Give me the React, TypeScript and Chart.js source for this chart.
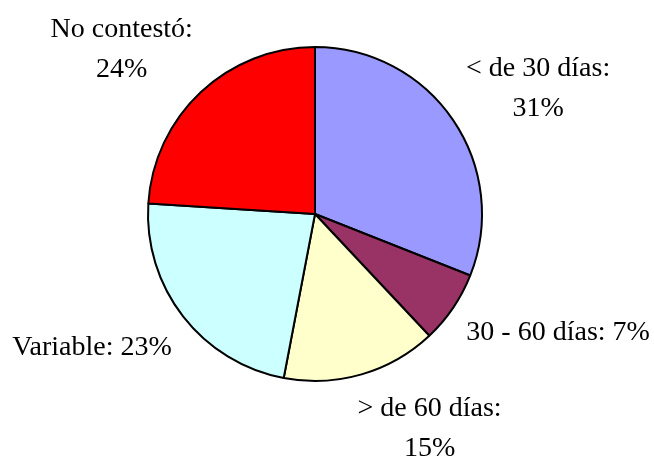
import React, { useEffect, useRef } from "react";
import { Chart, registerables } from "chart.js";

Chart.register(...registerables);

const CATEGORIES = ["< de 30 días", "30 - 60 días", "> de 60 días", "Variable", "No contestó"];
const VALUES = [31, 7, 15, 23, 24];
const COLORS = ["#9999FF", "#993366", "#FFFFCC", "#CCFFFF", "#FF0000"];
const WRAP = [true, false, true, false, true];
// label block centre offsets from the slice's outer mid point (style only)
const LABEL_OFFSETS: [number, number][] = [
  [85, -31],
  [105, 25],
  [68, 54],
  [-91, 31],
  [-79, -43],
];

const labelPlugin = {
  id: "outerLabels",
  afterDatasetsDraw(chart: any) {
    const ctx = chart.ctx;
    const meta = chart.getDatasetMeta(0);
    ctx.save();
    ctx.font = '28px "Liberation Serif"';
    ctx.fillStyle = "#000";
    ctx.textAlign = "center";
    ctx.textBaseline = "middle";
    const lineH = 40;
    meta.data.forEach((arc: any, i: number) => {
      const { x, y, startAngle, endAngle, outerRadius } = arc.getProps(
        ["x", "y", "startAngle", "endAngle", "outerRadius"],
        true
      );
      const mid = (startAngle + endAngle) / 2;
      const ex = x + Math.cos(mid) * outerRadius;
      const ey = y + Math.sin(mid) * outerRadius;
      const cx = ex + LABEL_OFFSETS[i][0];
      const cy = ey + LABEL_OFFSETS[i][1];
      const name = CATEGORIES[i] + ":";
      const pct = VALUES[i] + "%";
      const lines = WRAP[i] ? [name, pct] : [name + " " + pct];
      const startY = cy - ((lines.length - 1) * lineH) / 2;
      lines.forEach((t, k) => ctx.fillText(t, cx, startY + k * lineH));
    });
    ctx.restore();
  },
};

export default function App() {
  const ref = useRef<HTMLCanvasElement | null>(null);
  useEffect(() => {
    if (!ref.current) return;
    const chart = new Chart(ref.current, {
      type: "pie",
      data: {
        labels: CATEGORIES,
        datasets: [
          {
            data: VALUES,
            backgroundColor: COLORS,
            borderColor: "#000000",
            borderWidth: 2,
            hoverOffset: 0,
          },
        ],
      },
      options: {
        animation: false,
        responsive: true,
        maintainAspectRatio: false,
        layout: { padding: { left: 147, right: 171, top: 46, bottom: 82 } },
        plugins: {
          legend: { display: false },
          tooltip: { enabled: false },
        },
      },
      plugins: [labelPlugin],
    });
    return () => chart.destroy();
  }, []);
  return (
    <div style={{ position: "fixed", left: 0, top: 0, width: 654, height: 464, background: "#fff" }}>
      <canvas ref={ref} />
    </div>
  );
}
